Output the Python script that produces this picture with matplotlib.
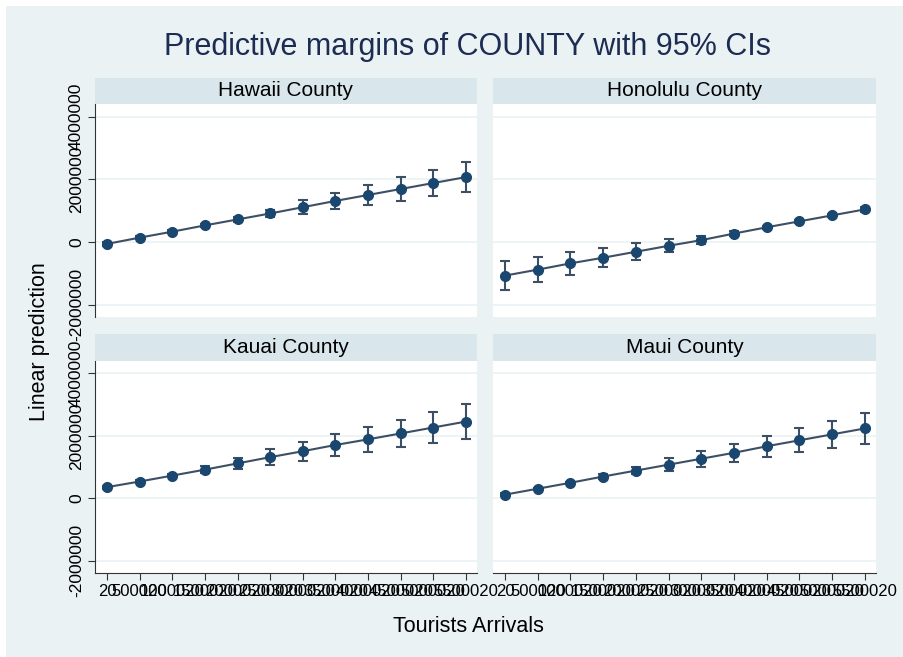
import numpy as np
import matplotlib
matplotlib.use("Agg")
import matplotlib.pyplot as plt
from matplotlib.patches import Rectangle

plt.rcParams["font.family"] = ["Liberation Sans", "DejaVu Sans"]

# tourist arrival levels used for the margins
arrivals = [20 + 500000 * k for k in range(12)]

counties = ["Hawaii County", "Honolulu County", "Kauai County", "Maui County"]

# predicted values
hawaii = [-0.06e6, 0.14e6, 0.33e6, 0.53e6, 0.72e6, 0.91e6, 1.11e6, 1.31e6, 1.50e6, 1.69e6, 1.88e6, 2.07e6]
honolulu = [-1.07e6, -0.88e6, -0.68e6, -0.50e6, -0.31e6, -0.12e6, 0.06e6, 0.27e6, 0.47e6, 0.66e6, 0.85e6, 1.04e6]
kauai = [0.36e6, 0.54e6, 0.73e6, 0.92e6, 1.12e6, 1.32e6, 1.51e6, 1.71e6, 1.89e6, 2.08e6, 2.27e6, 2.46e6]
maui = [0.12e6, 0.31e6, 0.50e6, 0.70e6, 0.89e6, 1.08e6, 1.27e6, 1.46e6, 1.67e6, 1.86e6, 2.05e6, 2.24e6]

# half width of the 95% CI
hawaii_ci = [0.06e6, 0.04e6, 0.04e6, 0.06e6, 0.08e6, 0.12e6, 0.22e6, 0.265e6, 0.33e6, 0.37e6, 0.42e6, 0.47e6]
honolulu_ci = [0.46e6, 0.41e6, 0.37e6, 0.31e6, 0.265e6, 0.21e6, 0.12e6, 0.07e6, 0.04e6, 0.04e6, 0.05e6, 0.08e6]
kauai_ci = [0.05e6, 0.04e6, 0.06e6, 0.11e6, 0.17e6, 0.25e6, 0.30e6, 0.35e6, 0.40e6, 0.44e6, 0.49e6, 0.55e6]
maui_ci = [0.04e6, 0.03e6, 0.04e6, 0.07e6, 0.12e6, 0.20e6, 0.25e6, 0.29e6, 0.34e6, 0.39e6, 0.44e6, 0.50e6]

values = [hawaii, honolulu, kauai, maui]
cis = [hawaii_ci, honolulu_ci, kauai_ci, maui_ci]

yticks = [-2000000, 0, 2000000, 4000000]

W, H = 904, 657
BG = "#eaf2f3"
STRIP = "#d9e6eb"
NAVY = "#1a476f"
LINE = "#3e4f63"


def frac(x0, y0, x1, y1):
    # pixel box (top-left origin) -> figure fraction rect
    return [x0 / W, 1 - y1 / H, (x1 - x0) / W, (y1 - y0) / H]


fig = plt.figure(figsize=(W / 100, H / 100), dpi=100)
fig.patch.set_facecolor("white")
fig.patches.append(Rectangle((6 / W, 0), 1 - 6 / W, 1 - 6 / H, transform=fig.transFigure,
                             facecolor=BG, edgecolor="none", zorder=-10))

cols = [(95, 477), (493, 876)]
rows = [(78, 104, 317), (334, 361, 573)]

for i, name in enumerate(counties):
    r, c = divmod(i, 2)
    x0, x1 = cols[c]
    st, top, bot = rows[r]

    # strip with the county name
    sax = fig.add_axes(frac(x0, st, x1, top))
    sax.set_facecolor(STRIP)
    sax.set_xticks([])
    sax.set_yticks([])
    for s in sax.spines.values():
        s.set_visible(False)
    sax.text(0.5, 0.5, name, ha="center", va="center", fontsize=15, color="black")

    ax = fig.add_axes(frac(x0, top, x1, bot))
    ax.set_facecolor("white")
    ax.set_xlim(-184000, 5670000)
    ax.set_ylim(-2390000, 4400000)
    for s in ax.spines.values():
        s.set_visible(False)
    ax.set_yticks(yticks)
    ax.set_xticks(arrivals)
    ax.grid(axis="y", color=BG, linewidth=1.2)
    ax.set_axisbelow(True)

    if c == 0:
        ax.spines["left"].set_visible(True)
        ax.spines["left"].set_color("#333333")
        ax.tick_params(axis="y", length=5, color="#333333", labelsize=12.5, pad=3)
        ax.set_yticklabels([str(v) for v in yticks], rotation=90, va="center")
    else:
        ax.tick_params(axis="y", left=False, labelleft=False)

    if r == 1:
        ax.spines["bottom"].set_visible(True)
        ax.spines["bottom"].set_color("#333333")
        ax.tick_params(axis="x", length=5, color="#333333", labelsize=12, pad=3)
        ax.set_xticklabels([str(v) for v in arrivals])
    else:
        ax.tick_params(axis="x", bottom=False, labelbottom=False)

    ax.plot(arrivals, values[i], color=LINE, linewidth=1.5, zorder=2)
    ax.errorbar(arrivals, values[i], yerr=cis[i], fmt="none", ecolor=LINE,
                elinewidth=1.5, capsize=3.5, capthick=1.5, zorder=3)
    ax.plot(arrivals, values[i], "o", color=NAVY, markersize=7, zorder=4)

fig.text(468 / W, 1 - 47 / H, "Predictive margins of COUNTY with 95% CIs",
         ha="center", va="center", fontsize=22, color="#1c2c52")
fig.text(40 / W, 1 - 342 / H, "Linear prediction", rotation=90,
         ha="center", va="center", fontsize=15.5)
fig.text(468 / W, 1 - 626 / H, "Tourists Arrivals", ha="center", va="center", fontsize=15.5)

fig.savefig("out.png", dpi=100, facecolor=fig.get_facecolor())
